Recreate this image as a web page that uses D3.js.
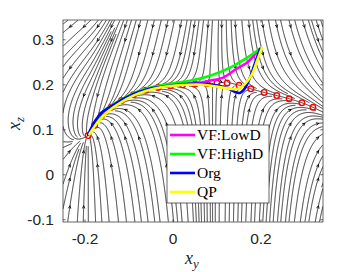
<!DOCTYPE html>
<html>
<head>
<meta charset="utf-8">
<script src="https://cdn.jsdelivr.net/npm/d3@7"></script>
<style>
body { margin: 0; background: #fff; }
</style>
</head>
<body>
<svg id="chart" width="357" height="272"></svg>
<script>
// ---- data ----
var xTicks = [-0.2, 0, 0.2]
var yTicks = [-0.1, 0, 0.1, 0.2, 0.3]

// red circles (slow manifold)
var redX = [-0.193,-0.178,-0.162,-0.141,-0.117,-0.09,-0.062,-0.034,-0.006,0.022,0.05,0.078,0.1,0.123,0.150,0.177,0.207,0.236,0.264,0.293,0.318]
var redY = [0.087,0.110,0.133,0.150,0.165,0.178,0.188,0.194,0.198,0.2,0.202,0.203,0.204,0.204,0.199,0.191,0.183,0.176,0.169,0.160,0.150]

var lowDX = [0.193,0.168,0.145,0.114,0.084,0.055,0.023,-0.014,-0.045,-0.075,-0.105,-0.136,-0.159,-0.173,-0.19]
var lowDY = [0.276,0.249,0.236,0.216,0.209,0.204,0.202,0.198,0.194,0.186,0.173,0.155,0.139,0.121,0.09]
var highDX = [0.198,0.168,0.130,0.084,0.039,-0.007,-0.045,-0.075,-0.105,-0.136,-0.159,-0.173,-0.19]
var highDY = [0.28,0.26,0.238,0.22,0.209,0.202,0.195,0.187,0.174,0.156,0.14,0.122,0.09]
var orgX = [0.198,0.186,0.175,0.164,0.152,0.141,0.123,0.091,0.055,0.016,-0.014,-0.047,-0.078,-0.108,-0.139,-0.162,-0.176,-0.193]
var orgY = [0.28,0.247,0.216,0.193,0.182,0.184,0.193,0.2,0.202,0.201,0.197,0.193,0.184,0.171,0.153,0.138,0.121,0.089]
var qpX = [0.202,0.191,0.180,0.164,0.148,0.130,0.100,0.068,0.032,0.0,-0.03,-0.06,-0.09,-0.12,-0.145,-0.163,-0.178,-0.19]
var qpY = [0.282,0.253,0.224,0.202,0.191,0.191,0.196,0.2,0.2,0.198,0.194,0.187,0.176,0.16,0.143,0.126,0.108,0.09]

var seriesNames = ["VF:LowD", "VF:HighD", "Org", "QP"]
var seriesColors = ["#ff00ff", "#00ff00", "#0000ff", "#ffff00"]

// ---- layout ----
var svg = d3.select("#chart")
var xScale = d3.scaleLinear().domain([-0.25, 0.341]).range([63, 323])
var yScale = d3.scaleLinear().domain([-0.105, 0.344]).range([222, 20])
var x0 = xScale.range()[0], x1 = xScale.range()[1]
var y0 = yScale.range()[1], y1 = yScale.range()[0]

// ---- vector field model (shape of the flow behind the streamlines) ----
var xN = redX[0], xs = 0.09
var cS = 3
var sig = function(t) { return 1 / (1 + Math.exp(-t)) }

var mX = [-0.27].concat(redX, [0.37])
var mY = [0.06].concat(redY, [0.125])
var mT = mX.map(function(d, i) {
  var a = Math.max(i - 1, 0), b = Math.min(i + 1, mX.length - 1)
  return (mY[b] - mY[a]) / (mX[b] - mX[a])
})
function manifold(x) {
  var n = mX.length
  if (x <= mX[0]) return [mY[0] + mT[0] * (x - mX[0]), mT[0]]
  if (x >= mX[n - 1]) return [mY[n - 1] + mT[n - 1] * (x - mX[n - 1]), mT[n - 1]]
  var i = d3.bisectRight(mX, x) - 1
  var h = mX[i + 1] - mX[i], t = (x - mX[i]) / h
  var t2 = t * t, t3 = t2 * t
  var m = (2*t3 - 3*t2 + 1) * mY[i] + (t3 - 2*t2 + t) * h * mT[i] + (-2*t3 + 3*t2) * mY[i + 1] + (t3 - t2) * h * mT[i + 1]
  var dm = ((6*t2 - 6*t) * mY[i] + (3*t2 - 4*t + 1) * h * mT[i] + (-6*t2 + 6*t) * mY[i + 1] + (3*t2 - 2*t) * h * mT[i + 1]) / h
  return [m, dm]
}
function field(x, y) {
  var md = manifold(x)
  var d = y - md[0]
  var s = cS * (x - xN) * (x - xs)
  if (x > xs) s *= 0.5
  var beta = (0.5 + 2.5 * sig((-0.15 - x) / 0.03)) * sig((0.08 - x) / 0.03)
  var kA = 2.6 + 0.9 * sig((0.1 - x) / 0.03)
  var kB = 1.8 + 2.5 * sig((x - 0.1) / 0.025)
  var u = s - (d > 0 ? beta * d * d * 6 : 0)
  var v = md[1] * s - (d > 0 ? kA : kB) * d
  return [u, v]
}

// ---- evenly spaced streamlines ----
var dsep = 4.6, dtest = 1.8, step = 0.5
var kx = xScale(1) - xScale(0), ky = yScale(0) - yScale(1)
function vel(px, py) {
  var f = field(xScale.invert(px), yScale.invert(py))
  return [f[0] * kx, -f[1] * ky]
}
var gs = dsep, gnx = Math.ceil((x1 - x0) / gs) + 1, gny = Math.ceil((y1 - y0) / gs) + 1
var grid = []
for (var g = 0; g < gnx * gny; g++) grid.push([])
function gi(px, py) { return Math.floor((py - y0) / gs) * gnx + Math.floor((px - x0) / gs) }
function near(px, py, r, id, idx) {
  var ci = Math.floor((px - x0) / gs), cj = Math.floor((py - y0) / gs)
  var n = Math.ceil(r / gs)
  for (var j = cj - n; j <= cj + n; j++) {
    if (j < 0 || j >= gny) continue
    for (var i = ci - n; i <= ci + n; i++) {
      if (i < 0 || i >= gnx) continue
      var cellPts = grid[j * gnx + i]
      for (var q = 0; q < cellPts.length; q++) {
        var p = cellPts[q]
        if (p[2] === id && Math.abs(p[3] - idx) < 40) continue
        if ((p[0]-px)*(p[0]-px) + (p[1]-py)*(p[1]-py) < r * r) return true
      }
    }
  }
  return false
}
function trace(sx, sy, dir, id) {
  var pts = [], x = sx, y = sy, pa = null, pb = null
  for (var k = 1; k < 2000; k++) {
    var v1 = vel(x, y), m1 = Math.hypot(v1[0], v1[1])
    if (m1 < 1e-4) break
    var h = step * dir
    var v2 = vel(x + 0.5 * h * v1[0] / m1, y + 0.5 * h * v1[1] / m1), m2 = Math.hypot(v2[0], v2[1])
    if (m2 < 1e-4) break
    var ax = v2[0] / m2, ay = v2[1] / m2
    if (pa !== null && ax * pa + ay * pb < 0) break
    pa = ax; pb = ay
    x += h * ax; y += h * ay
    if (x < x0 || x > x1 || y < y0 || y > y1) break
    if (near(x, y, dtest, id, dir * k)) break
    pts.push([x, y, id, dir * k])
  }
  return pts
}
var lines = [], seeds = []
var id = 0
;[3, 1].forEach(function(mult) {
  var sp = dsep * mult
  for (var sy = y0 + sp / 2; sy < y1; sy += sp) {
    for (var sx = x0 + sp / 2; sx < x1; sx += sp) {
      if (near(sx, sy, dsep * 0.95, -1, 0)) continue
      var fw = trace(sx, sy, 1, id)
      var bw = trace(sx, sy, -1, id)
      var pts = bw.slice().reverse().concat([[sx, sy, id, 0]], fw)
      if (pts.length > 6) {
        pts.forEach(function(p) { grid[gi(p[0], p[1])].push(p) })
        lines.push(pts)
        if (mult === 3) seeds.push([sx, sy])
      }
      id++
    }
  }
})

svg.append("defs").append("clipPath").attr("id", "clip")
  .append("rect").attr("x", x0).attr("y", y0).attr("width", x1 - x0).attr("height", y1 - y0)

var plot = svg.append("g").attr("clip-path", "url(#clip)")
var lineGen = d3.line().x(function(d) { return d[0] }).y(function(d) { return d[1] })
plot.append("g").selectAll("path").data(lines).enter().append("path")
  .attr("d", lineGen)
  .attr("fill", "none").attr("stroke", "#000").attr("stroke-width", 0.8)

// arrows at the coarse seeds
var arrows = seeds.map(function(p) {
  var vv = vel(p[0], p[1])
  return { x: p[0], y: p[1], a: Math.atan2(vv[1], vv[0]) * 180 / Math.PI }
})
plot.append("g").selectAll("path").data(arrows).enter().append("path")
  .attr("d", "M-2.2,-1.3L0.6,0L-2.2,1.3")
  .attr("transform", function(d) { return "translate(" + d.x + "," + d.y + ") rotate(" + d.a + ")" })
  .attr("fill", "none").attr("stroke", "#000").attr("stroke-width", 0.8)

// red manifold circles
plot.append("g").selectAll("circle").data(redX).enter().append("circle")
  .attr("cx", function(d) { return xScale(d) })
  .attr("cy", function(d, i) { return yScale(redY[i]) })
  .attr("r", 2.8)
  .attr("fill", "none").attr("stroke", "#ff0000").attr("stroke-width", 1.4)

// trajectories
var series = [[lowDX, lowDY], [highDX, highDY], [orgX, orgY], [qpX, qpY]]
var trajLine = d3.line()
  .x(function(d) { return xScale(d[0]) })
  .y(function(d) { return yScale(d[1]) })
  .curve(d3.curveCatmullRom.alpha(0.5))
series.forEach(function(s, k) {
  var pts = s[0].map(function(d, i) { return [d, s[1][i]] })
  plot.append("path").attr("d", trajLine(pts))
    .attr("fill", "none").attr("stroke", seriesColors[k]).attr("stroke-width", 2.6)
    .attr("stroke-linejoin", "round").attr("stroke-linecap", "round")
})

// ---- axes ----
var axisColor = "#262626"
var tick = 2.6
var axisG = svg.append("g").attr("stroke", axisColor).attr("stroke-width", 0.7)
axisG.append("rect").attr("x", x0).attr("y", y0).attr("width", x1 - x0).attr("height", y1 - y0).attr("fill", "none")
xTicks.forEach(function(t) {
  axisG.append("line").attr("x1", xScale(t)).attr("x2", xScale(t)).attr("y1", y1).attr("y2", y1 - tick)
  axisG.append("line").attr("x1", xScale(t)).attr("x2", xScale(t)).attr("y1", y0).attr("y2", y0 + tick)
})
yTicks.forEach(function(t) {
  axisG.append("line").attr("y1", yScale(t)).attr("y2", yScale(t)).attr("x1", x0).attr("x2", x0 + tick)
  axisG.append("line").attr("y1", yScale(t)).attr("y2", yScale(t)).attr("x1", x1).attr("x2", x1 - tick)
})
svg.append("g").selectAll("text").data(xTicks).enter().append("text")
  .attr("x", function(d) { return xScale(d) }).attr("y", 244)
  .attr("text-anchor", "middle")
  .attr("font-family", "Liberation Sans, Arial, sans-serif").attr("font-size", 15.5).attr("fill", axisColor)
  .text(function(d) { return d })
svg.append("g").selectAll("text").data(yTicks).enter().append("text")
  .attr("x", 54).attr("y", function(d) { return yScale(d) + 5.5 })
  .attr("text-anchor", "end")
  .attr("font-family", "Liberation Sans, Arial, sans-serif").attr("font-size", 15.5).attr("fill", axisColor)
  .text(function(d) { return d })

// axis labels
var xl = svg.append("text").attr("x", 185).attr("y", 264)
  .attr("font-family", "Liberation Serif, serif").attr("font-size", 18).attr("font-style", "italic").attr("fill", axisColor)
xl.append("tspan").text("x")
xl.append("tspan").attr("dy", 4).attr("font-size", 13).text("y")
var yl = svg.append("text").attr("transform", "translate(20,130) rotate(-90)")
  .attr("font-family", "Liberation Serif, serif").attr("font-size", 18).attr("font-style", "italic").attr("fill", axisColor)
yl.append("tspan").text("x")
yl.append("tspan").attr("dy", 4).attr("font-size", 13).text("z")

// ---- legend ----
var leg = svg.append("g")
leg.append("rect").attr("x", 167).attr("y", 125).attr("width", 102).attr("height", 78)
  .attr("fill", "#fff").attr("stroke", axisColor).attr("stroke-width", 0.7)
seriesNames.forEach(function(n, k) {
  var yy = 135 + k * 19
  leg.append("line").attr("x1", 170).attr("x2", 195).attr("y1", yy).attr("y2", yy)
    .attr("stroke", seriesColors[k]).attr("stroke-width", 2.6)
  leg.append("text").attr("x", 197).attr("y", yy + 5)
    .attr("font-family", "Liberation Serif, serif").attr("font-size", 15.5).attr("fill", "#000")
    .text(n)
})
</script>
</body>
</html>
